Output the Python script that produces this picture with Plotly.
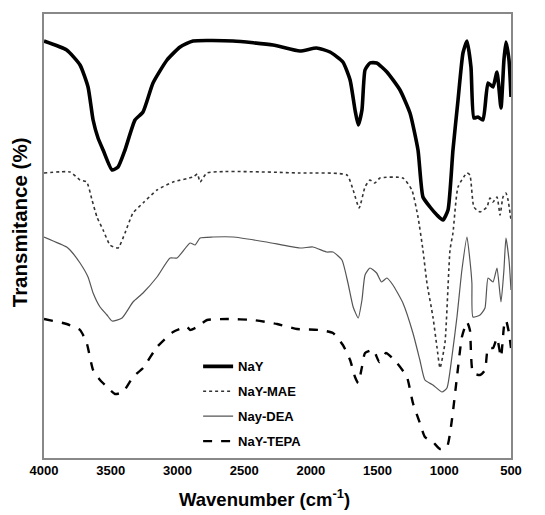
import plotly.graph_objects as go

# Wavenumber (cm-1) and transmittance (arbitrary units, offset traces)
nay_x = [4000, 3830, 3730, 3670, 3632, 3595, 3557, 3490, 3445, 3393, 3318, 3258, 3183, 3078, 2980, 2883,
         2583, 2283, 2082, 1957, 1857, 1760, 1706, 1669, 1645, 1617, 1594, 1557, 1507, 1430, 1332, 1257,
         1197, 1160, 1107, 1055, 1010, 972, 935, 897, 860, 830, 800, 778, 748, 710, 672, 635, 605, 575,
         553, 538, 515, 500]
nay_y = [417, 408, 393, 371, 338, 320, 308, 288, 291, 308, 338, 346, 375, 398, 411, 417,
         417, 413, 407, 410, 406, 396, 378, 348, 333, 348, 388, 395, 395, 386, 368, 345,
         308, 261, 251, 243, 238, 248, 308, 358, 405, 417, 391, 340, 341, 338, 375, 371, 386, 350,
         398, 416, 398, 361]

mae_x = [4000, 3805, 3730, 3680, 3640, 3603, 3557, 3505, 3445, 3393, 3333, 3258, 3153, 3033, 2883, 2850,
         2830, 2778, 2082, 1730, 1683, 1638, 1594, 1557, 1520, 1482, 1310, 1243, 1197, 1160, 1130, 1085,
         1055, 1032, 995, 957, 935, 897, 830, 808, 778, 732, 680, 658, 635, 605, 582, 560, 538, 522, 500]
mae_y = [285, 286, 278, 276, 258, 241, 228, 213, 210, 225, 245, 255, 268, 276, 281, 284,
         276, 285, 285, 283, 268, 250, 271, 278, 275, 280, 280, 268, 241, 208, 175, 141,
         111, 90, 115, 208, 225, 271, 285, 283, 251, 246, 251, 260, 256, 261, 243, 261, 265, 258, 238]

dea_x = [4000, 3830, 3805, 3730, 3670, 3632, 3580, 3528, 3490, 3415, 3333, 3258, 3153, 3055, 3003, 2905,
         2868, 2830, 2733, 2583, 2333, 2082, 1985, 1880, 1834, 1767, 1722, 1683, 1645, 1617, 1594, 1557,
         1507, 1470, 1430, 1385, 1310, 1235, 1183, 1145, 1085, 1017, 980, 943, 905, 868, 830, 808, 793,
         785, 732, 695, 672, 635, 605, 575, 553, 538, 515, 500]
dea_y = [221, 211, 208, 195, 181, 165, 151, 143, 137, 140, 156, 165, 181, 200, 200, 215,
         213, 220, 221, 221, 216, 210, 211, 206, 206, 198, 175, 151, 140, 158, 183, 190,
         185, 176, 180, 173, 155, 125, 98, 78, 73, 66, 70, 101, 141, 188, 221, 198, 175,
         141, 143, 150, 180, 176, 190, 156, 188, 220, 198, 168]

tepa_x = [4000, 3830, 3730, 3680, 3632, 3580, 3528, 3468, 3408, 3333, 3258, 3153, 3033, 2928, 2905, 2853,
          2778, 2628, 2433, 2253, 2103, 1932, 1834, 1760, 1706, 1669, 1645, 1617, 1594, 1532, 1487, 1437,
          1355, 1280, 1235, 1183, 1145, 1085, 1032, 980, 943, 905, 868, 830, 808, 785, 732, 695, 672,
          635, 605, 575, 553, 538, 515, 500]
tepa_y = [139, 134, 128, 115, 88, 78, 71, 64, 66, 81, 90, 111, 126, 131, 128, 131,
          138, 139, 138, 134, 129, 128, 125, 113, 98, 81, 75, 91, 105, 108, 96, 105,
          95, 81, 55, 35, 21, 16, 9, 11, 38, 81, 121, 136, 128, 85, 83, 88, 110,
          110, 120, 101, 131, 138, 125, 110]

names = ["NaY", "NaY-MAE", "Nay-DEA", "NaY-TEPA"]
tick_vals = [4000, 3500, 3000, 2500, 2000, 1500, 1000, 500]
x_title = "Wavenumber (cm<sup>-1</sup>)"
y_title = "Transmitance (%)"

series = [
    (nay_x, nay_y, dict(color="#000000", width=3.6, dash="solid")),
    (mae_x, mae_y, dict(color="#333333", width=1.6, dash="dot")),
    (dea_x, dea_y, dict(color="#555555", width=1.2, dash="solid")),
    (tepa_x, tepa_y, dict(color="#000000", width=2.4, dash="dash")),
]

fig = go.Figure()
for i, ((xs, ys, ln), nm) in enumerate(zip(series, names)):
    fig.add_trace(go.Scatter(x=xs, y=ys, mode="lines", name=nm, legendgroup=nm,
                             line=dict(shape="spline", smoothing=0.5, **ln)))

fig.update_layout(
    width=545, height=515,
    margin=dict(l=44, r=34, t=14, b=57),
    plot_bgcolor="white", paper_bgcolor="white",
    font=dict(family="Liberation Sans, Arial, sans-serif", color="#000000"),
    showlegend=True,
    legend=dict(x=0.33, y=0.24, xanchor="left", yanchor="top", bgcolor="rgba(0,0,0,0)",
                font=dict(size=13, weight="bold"), tracegroupgap=5, itemwidth=30),
    xaxis=dict(range=[4000, 500], tickvals=tick_vals, ticktext=[str(v) for v in tick_vals],
               showgrid=False, zeroline=False, showline=True, linecolor="#888888", linewidth=1.5,
               mirror=True, ticks="", tickfont=dict(size=13, weight="bold"), automargin=False),
    yaxis=dict(range=[0, 444], showticklabels=False, showgrid=False, zeroline=False, showline=True,
               linecolor="#888888", linewidth=1.5, mirror=True, ticks="", automargin=False),
    annotations=[
        dict(text=x_title, xref="paper", yref="paper", x=0.473, y=-0.09, xanchor="center",
             yanchor="middle", showarrow=False, font=dict(size=18.5, weight="bold")),
        dict(text=y_title, xref="paper", yref="paper", x=-0.053, y=0.5315, xanchor="center",
             yanchor="middle", showarrow=False, textangle=-90, font=dict(size=20.5, weight="bold")),
    ],
)

fig.write_html("out.html", config={"displayModeBar": False},
               post_script="document.body.style.margin='0';document.body.style.padding='0';")
